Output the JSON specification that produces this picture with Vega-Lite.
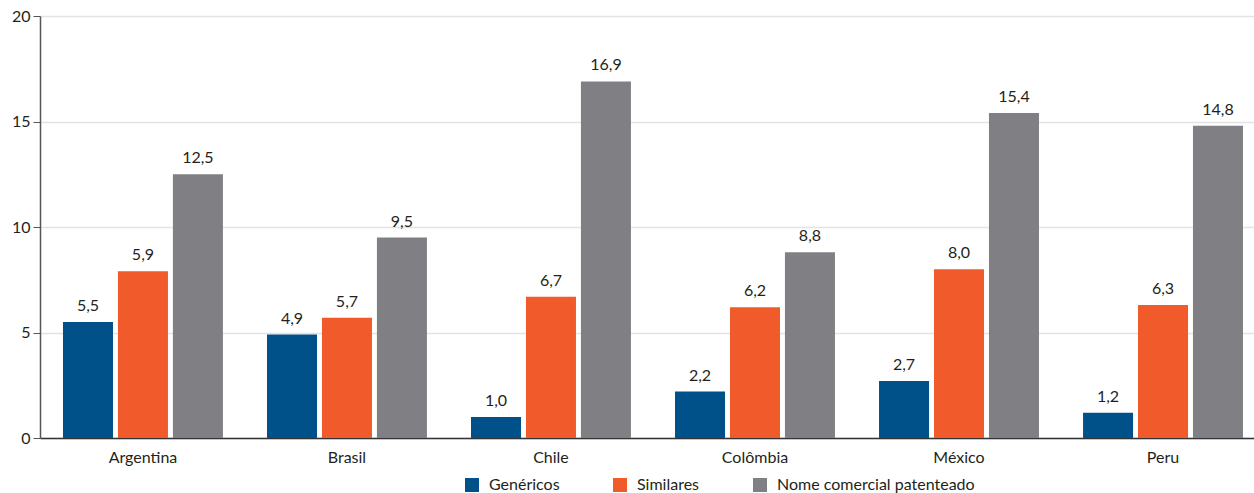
{
  "$schema": "https://vega.github.io/schema/vega-lite/v6.json",
  "autosize": {"type": "none"},
  "width": 1214,
  "height": 422,
  "padding": {"left": 40, "top": 16, "right": 0, "bottom": 55},
  "config": {
    "locale": {"number": {"decimal": ",", "thousands": ".", "grouping": [3], "currency": ["R$", ""]}},
    "font": "Lato",
    "view": {"stroke": null},
    "axis": {"labelFont": "Lato", "labelFontSize": 16, "labelColor": "#231f20"}
  },
  "data": {"values": [
    {"pais": "Argentina", "tipo": "Genéricos", "valor": 5.5, "rotulo": "5,5"},
    {"pais": "Argentina", "tipo": "Similares", "valor": 7.9, "rotulo": "5,9"},
    {"pais": "Argentina", "tipo": "Nome comercial patenteado", "valor": 12.5, "rotulo": "12,5"},
    {"pais": "Brasil", "tipo": "Genéricos", "valor": 4.9, "rotulo": "4,9"},
    {"pais": "Brasil", "tipo": "Similares", "valor": 5.7, "rotulo": "5,7"},
    {"pais": "Brasil", "tipo": "Nome comercial patenteado", "valor": 9.5, "rotulo": "9,5"},
    {"pais": "Chile", "tipo": "Genéricos", "valor": 1.0, "rotulo": "1,0"},
    {"pais": "Chile", "tipo": "Similares", "valor": 6.7, "rotulo": "6,7"},
    {"pais": "Chile", "tipo": "Nome comercial patenteado", "valor": 16.9, "rotulo": "16,9"},
    {"pais": "Colômbia", "tipo": "Genéricos", "valor": 2.2, "rotulo": "2,2"},
    {"pais": "Colômbia", "tipo": "Similares", "valor": 6.2, "rotulo": "6,2"},
    {"pais": "Colômbia", "tipo": "Nome comercial patenteado", "valor": 8.8, "rotulo": "8,8"},
    {"pais": "México", "tipo": "Genéricos", "valor": 2.7, "rotulo": "2,7"},
    {"pais": "México", "tipo": "Similares", "valor": 8.0, "rotulo": "8,0"},
    {"pais": "México", "tipo": "Nome comercial patenteado", "valor": 15.4, "rotulo": "15,4"},
    {"pais": "Peru", "tipo": "Genéricos", "valor": 1.2, "rotulo": "1,2"},
    {"pais": "Peru", "tipo": "Similares", "valor": 6.3, "rotulo": "6,3"},
    {"pais": "Peru", "tipo": "Nome comercial patenteado", "valor": 14.8, "rotulo": "14,8"}
  ]},
  "encoding": {
    "x": {"field": "pais", "type": "nominal", "sort": null,
          "scale": {"paddingInner": 0.216, "paddingOuter": 0.0833, "align": 0.676},
          "axis": {"title": null, "labelAngle": 0, "ticks": false, "labelPadding": 11, "domainColor": "#333", "domainWidth": 1.5}},
    "xOffset": {"field": "tipo", "type": "nominal", "sort": ["Genéricos", "Similares", "Nome comercial patenteado"],
                "scale": {"paddingInner": 0.09}},
    "y": {"field": "valor", "type": "quantitative",
          "scale": {"domain": [0, 20]},
          "axis": {"title": null, "values": [0, 5, 10, 15, 20], "tickSize": 7, "tickColor": "#555", "domainColor": "#555", "domainWidth": 1.5, "gridColor": "#e3e3e3", "gridWidth": 1.5, "labelPadding": 3}}
  },
  "layer": [
    {
      "mark": {"type": "bar"},
      "encoding": {
        "color": {"field": "tipo", "type": "nominal", "sort": ["Genéricos", "Similares", "Nome comercial patenteado"],
                  "scale": {"domain": ["Genéricos", "Similares", "Nome comercial patenteado"], "range": ["#00508a", "#f15a2b", "#808084"]},
                  "legend": {"title": null, "orient": "none", "legendX": 424, "legendY": 461, "direction": "horizontal", "symbolType": "square", "symbolSize": 196, "symbolStrokeWidth": 0, "labelFontSize": 16, "labelFont": "Lato", "labelColor": "#231f20", "labelLimit": 0, "labelOffset": 9, "columnPadding": 52, "padding": 0}}
      }
    },
    {
      "mark": {"type": "text", "baseline": "bottom", "dy": -8, "fontSize": 16, "font": "Lato", "color": "#231f20"},
      "encoding": {
        "text": {"field": "rotulo", "type": "nominal"}
      }
    }
  ]
}
